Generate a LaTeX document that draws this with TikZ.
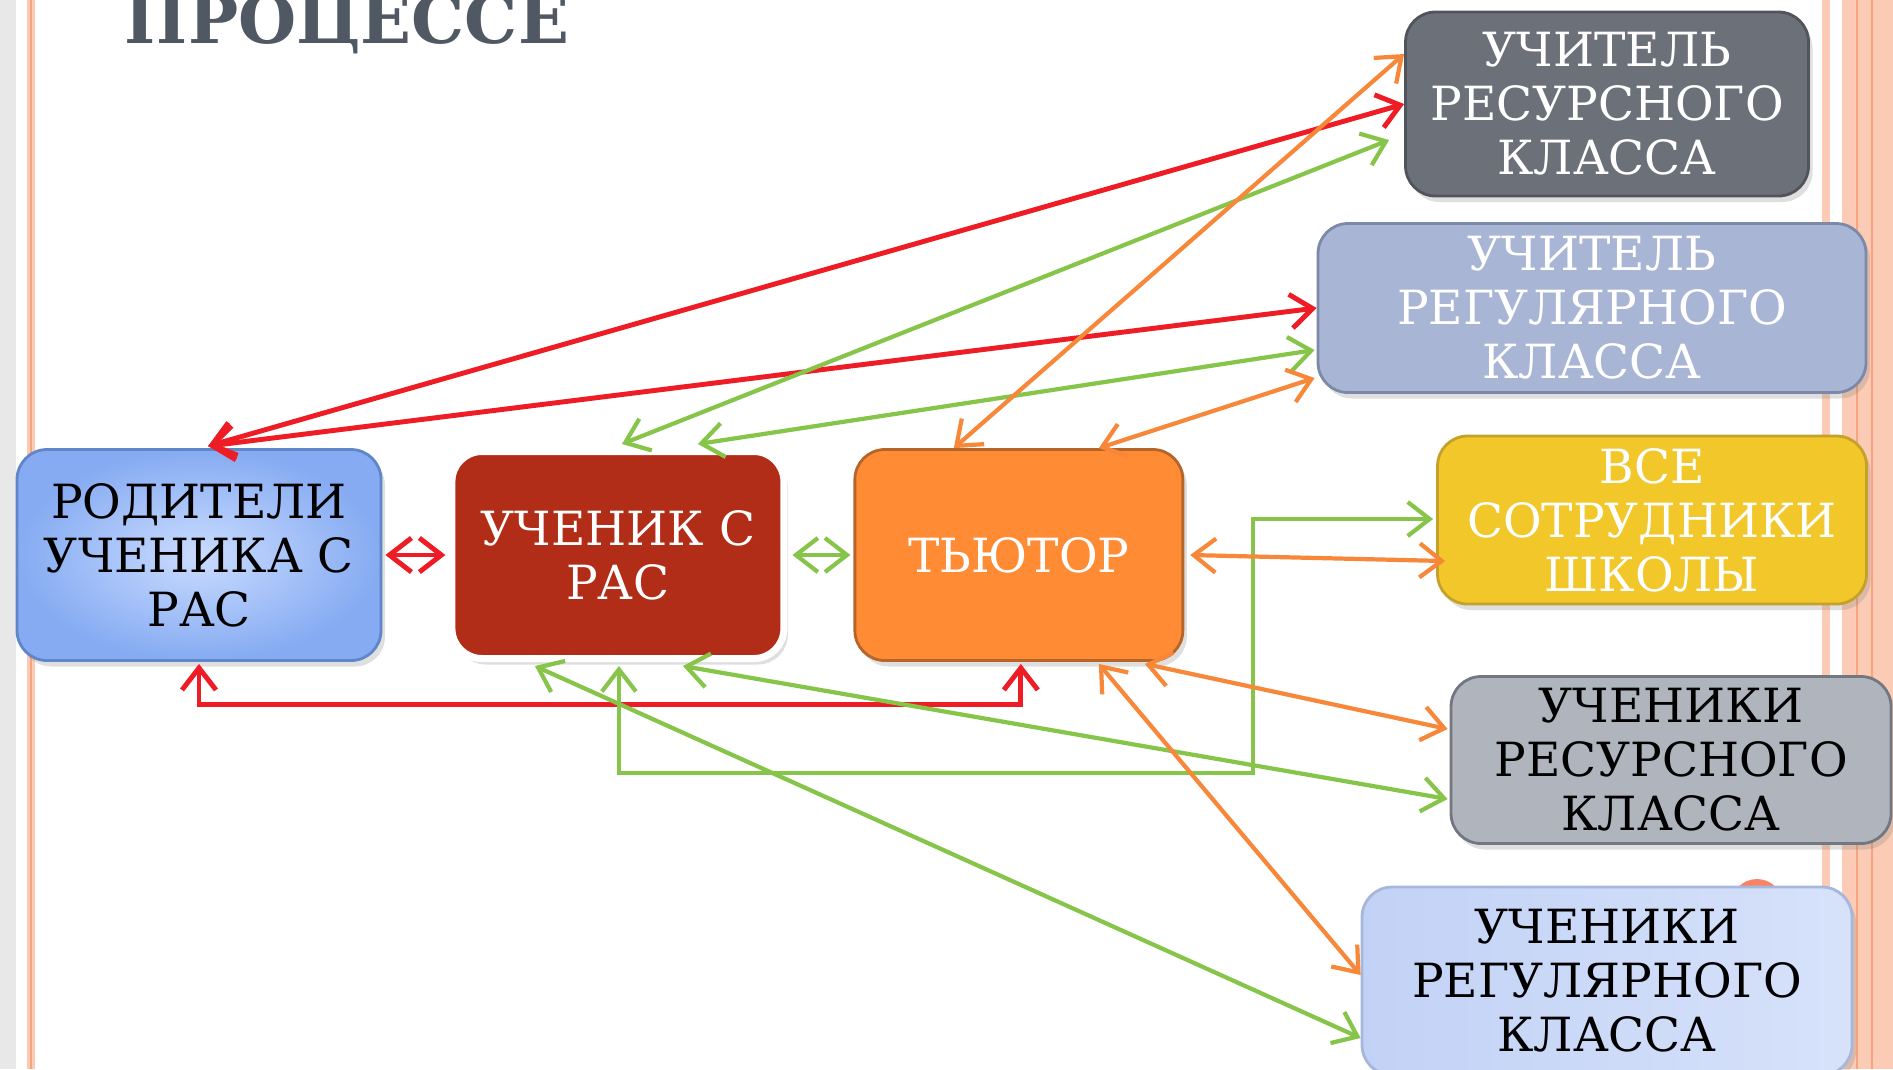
\documentclass[tikz,border=0pt]{standalone}
\usepackage{fontspec}
\setmainfont{DejaVu Serif}
\usetikzlibrary{arrows.meta, positioning, calc, shadows}
\definecolor{linkRed}{HTML}{EE1C24}
\definecolor{linkGreen}{HTML}{86C54A}
\definecolor{linkOrange}{HTML}{F7883A}
\definecolor{stripeSalmon}{HTML}{FBCBB5}
\definecolor{stripeLine}{HTML}{F6A47E}
\definecolor{titleGray}{HTML}{4F5863}
\definecolor{parentsIn}{HTML}{CADCFF}
\definecolor{parentsOut}{HTML}{86ABF2}
\definecolor{parentsEdge}{HTML}{5F86C9}
\definecolor{studentRed}{HTML}{B22D17}
\definecolor{tutorOrange}{HTML}{FF8B35}
\definecolor{tutorEdge}{HTML}{B5652A}
\definecolor{tresGray}{HTML}{6C7079}
\definecolor{tresEdge}{HTML}{50545B}
\definecolor{tregBlue}{HTML}{A8B5D5}
\definecolor{tregEdge}{HTML}{7C89A8}
\definecolor{staffYellow}{HTML}{F1C72A}
\definecolor{staffEdge}{HTML}{C6A12A}
\definecolor{sresSide}{HTML}{AFB4BD}
\definecolor{sresMid}{HTML}{D6D9DF}
\definecolor{sresEdge}{HTML}{737880}
\definecolor{sregLeft}{HTML}{C2D2F6}
\definecolor{sregRight}{HTML}{D7E2FA}
\definecolor{sregEdge}{HTML}{A6B7DB}
\newcommand{\boxfont}{\fontsize{13.4}{15.4}\selectfont}

\begin{document}
\begin{tikzpicture}[
    x=0.1mm, y=-0.1mm,
    node distance=6.6mm,
    box/.style={rectangle, rounded corners=3mm, draw, line width=0.8pt, inner sep=0pt, align=center, font=\boxfont, drop shadow={opacity=0.25, shadow xshift=0.4mm, shadow yshift=-0.6mm}},
    link/.style={{Straight Barb[length=2.2mm, width=3.4mm]}-{Straight Barb[length=2.2mm, width=3.4mm]}, line width=1.2pt},
    redlink/.style={link, draw=linkRed, line width=1.4pt},
    greenlink/.style={link, draw=linkGreen},
    orangelink/.style={link, draw=linkOrange},
]
    \useasboundingbox (0,0) rectangle (1893,1069);
    % slide frame
    \fill[gray!18] (0,0) rectangle (16,1069);
    \fill[stripeSalmon] (27,0) rectangle (35,1069);
    \draw[stripeLine, line width=0.5pt] (31,0) -- (31,1069);
    \fill[stripeSalmon] (1822,0) rectangle (1830,1069);
    \fill[stripeSalmon] (1842,0) rectangle (1893,1069);
    \draw[stripeLine, line width=0.8pt] (1857,0) -- (1857,1069);
    \draw[stripeLine, line width=0.8pt] (1872,0) -- (1872,1069);
    \fill[stripeLine!80!red] (1757,905) circle (26);

    \node[font=\fontsize{19}{22}\selectfont\bfseries, text=titleGray, anchor=base] (title) at (347,43) {ПРОЦЕССЕ};

    % left row
    \node[box, minimum width=36.4mm, minimum height=21.1mm, draw=parentsEdge, inner color=parentsIn, outer color=parentsOut] (parents) at (199,555) {РОДИТЕЛИ\\УЧЕНИКА С\\РАС};
    \node[box, right=of parents, minimum width=33.2mm, minimum height=20.7mm, draw=white, line width=2pt, fill=studentRed, text=white] (student) {УЧЕНИК С\\РАС};
    \node[box, right=of student, minimum width=32.8mm, minimum height=21.1mm, draw=tutorEdge, fill=tutorOrange, text=white] (tutor) {ТЬЮТОР};

    % right column
    \node[box, minimum width=40.3mm, minimum height=18.4mm, draw=tresEdge, fill=tresGray, text=white] (tres) at (1607,104) {УЧИТЕЛЬ\\РЕСУРСНОГО\\КЛАССА};
    \node[box, minimum width=54.8mm, minimum height=16.9mm, draw=tregEdge, fill=tregBlue, text=white] (treg) at (1592,308) {УЧИТЕЛЬ\\РЕГУЛЯРНОГО\\КЛАССА};
    \node[box, minimum width=42.9mm, minimum height=16.8mm, draw=staffEdge, fill=staffYellow, text=white] (staff) at (1652,520) {ВСЕ\\СОТРУДНИКИ\\ШКОЛЫ};
    \node[box, minimum width=44mm, minimum height=16.7mm, draw=sresEdge, left color=sresSide, middle color=sresMid, right color=sresSide] (sres) at (1671,760) {УЧЕНИКИ\\РЕСУРСНОГО\\КЛАССА};
    \node[box, minimum width=49mm, minimum height=18.8mm, draw=sregEdge, left color=sregLeft, right color=sregRight] (sreg) at (1607,981) {УЧЕНИКИ\\РЕГУЛЯРНОГО\\КЛАССА};

    \coordinate (gbend) at (1253,773);

    % red links
    \draw[redlink] ($(parents.north)+(9,-2)$) -- (tres.west);
    \draw[redlink] ($(parents.north)+(9,-2)$) -- (treg.west);
    \draw[redlink] ($(parents.east)+(3,0)$) -- ($(student.west)+(-3,0)$);
    \draw[redlink] ($(parents.south)+(0,2)$) -- ++(0,41) -| ($(tutor.south)+(2,2)$);

    % green links
    \draw[greenlink] ($(student.north)+(4,-4)$) -- ($(tres.west)+(-15,36)$);
    \draw[greenlink] ($(student.north)+(80,-4)$) -- ($(treg.west)+(-2,42)$);
    \draw[greenlink] ($(student.east)+(5,0)$) -- ($(tutor.west)+(-3,0)$);
    \draw[greenlink] ($(student.south)+(1,4)$) |- (gbend) |- ($(staff.west)+(-3,-1)$);
    \draw[greenlink] ($(student.south)+(-83,4)$) -- ($(sreg.west)+(0,57)$);
    \draw[greenlink] ($(student.south)+(65,4)$) -- ($(sres.west)+(-2,39)$);

    % orange links
    \draw[orangelink] ($(tutor.north)+(-65,0)$) -- ($(tres.west)+(0,-50)$);
    \draw[orangelink] ($(tutor.north)+(80,0)$) -- ($(treg.west)+(-2,70)$);
    \draw[orangelink] ($(tutor.east)+(6,0)$) -- ($(staff.west)+(9,41)$);
    \draw[orangelink] ($(tutor.south)+(126,2)$) -- ($(sres.west)+(-2,-31)$);
    \draw[orangelink] ($(tutor.south)+(80,2)$) -- ($(sreg.west)+(0,-6)$);
\end{tikzpicture}
\end{document}
